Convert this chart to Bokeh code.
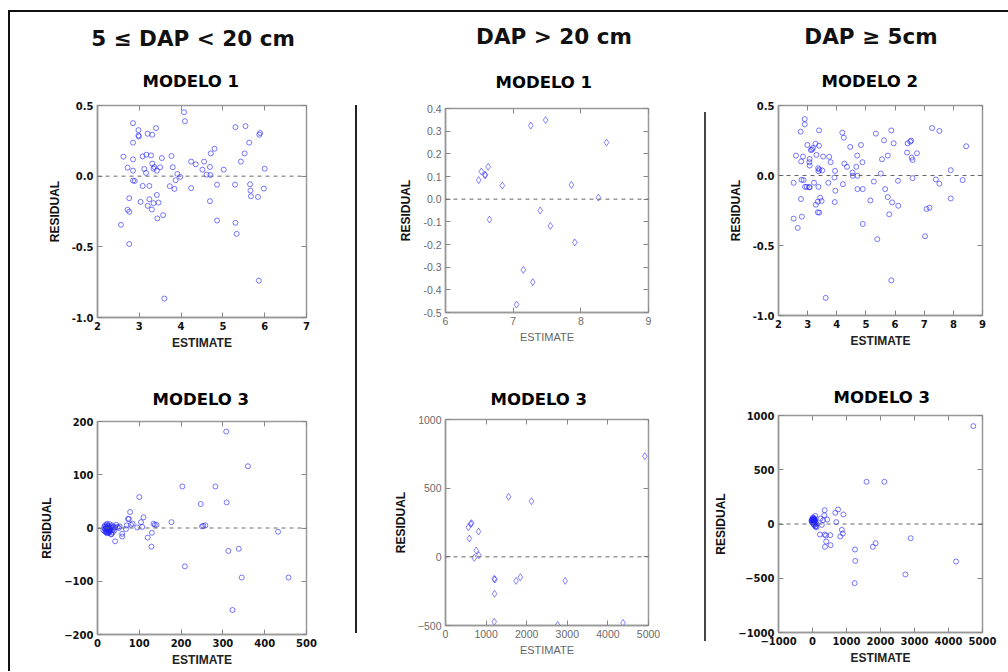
from bokeh.plotting import figure
from bokeh.models import (Range1d, FixedTicker, LinearAxis, Span, Div, NumeralTickFormatter, Spacer,
                          CustomLabelingPolicy)
from bokeh.layouts import row, column
from bokeh.embed import file_html
from bokeh.resources import INLINE

# ---------------- data ----------------
headers = ["5 \u2264 DAP &lt; 20 cm", "DAP &gt; 20 cm", "DAP \u2265 5cm"]

# 5 <= DAP < 20 cm, Modelo 1
s_m1_est = [2.62,2.85,2.98,2.98,2.99,2.85,2.72,2.85,2.85,2.85,2.89,2.76,2.72,2.76,2.56,2.76,3.08,3.17,3.28,3.20,
            3.31,3.40,3.12,3.16,3.08,3.03,3.20,3.24,3.24,3.30,3.34,3.36,3.34,3.31,3.42,3.50,3.54,3.46,3.42,3.43,
            3.57,3.60,3.77,3.80,3.73,3.84,3.87,3.91,3.98,4.07,4.09,4.24,4.35,4.24,4.55,4.51,4.61,4.69,4.70,4.71,
            4.80,4.69,4.86,4.86,5.02,5.30,5.29,5.30,5.33,5.54,5.52,5.43,5.63,5.65,5.66,5.67,5.84,5.87,5.89,6.00,
            5.98,5.86]
s_m1_res = [0.138,0.375,0.326,0.288,0.281,0.237,0.060,0.119,0.039,-0.031,-0.034,-0.156,-0.238,-0.252,-0.344,-0.480,0.140,0.152,0.147,0.300,
            0.293,0.340,0.051,0.023,-0.069,-0.182,-0.210,-0.163,-0.069,-0.236,-0.191,0.065,0.053,0.089,0.039,0.063,0.128,-0.187,-0.133,-0.299,
            -0.276,-0.866,0.143,0.063,-0.071,-0.090,-0.029,0.016,-0.005,0.453,0.389,0.103,0.084,-0.085,0.103,0.046,0.011,0.065,0.008,0.161,
            0.194,-0.177,-0.060,-0.314,0.046,0.347,-0.060,-0.330,-0.408,0.354,0.161,0.103,0.237,-0.057,-0.102,-0.142,-0.147,0.293,0.305,0.053,
            -0.088,-0.739]

# DAP > 20 cm, Modelo 1
l_m1_est = [6.49,6.53,6.58,6.59,6.63,6.65,6.84,7.05,7.15,7.26,7.29,7.48,7.40,7.55,7.86,7.91,8.26,8.38]
l_m1_res = [0.084,0.122,0.107,0.106,0.143,-0.090,0.060,-0.465,-0.312,0.325,-0.366,0.349,-0.050,-0.118,0.063,-0.191,0.007,0.250]

# DAP >= 5 cm, Modelo 2
a_m2_est = [2.52,2.60,2.52,2.66,2.76,2.78,2.84,2.79,2.86,2.77,2.80,2.90,2.90,2.91,2.99,2.97,3.05,3.07,3.06,3.07,
            3.11,3.15,3.18,3.07,3.22,3.27,3.30,3.39,3.39,3.36,3.37,3.40,3.50,3.37,3.28,3.35,3.35,3.40,3.43,3.48,
            3.53,3.62,3.71,3.74,3.79,3.94,3.92,3.95,3.93,4.19,4.24,4.21,4.26,4.35,4.46,4.54,4.55,4.70,4.67,4.71,
            4.71,4.83,4.88,4.89,4.89,5.15,5.27,5.34,5.39,5.51,5.55,5.62,5.66,5.75,5.75,5.80,5.87,5.90,5.95,5.87,
            6.10,6.11,6.41,6.43,6.52,6.55,6.57,6.60,6.60,6.75,7.03,7.08,7.18,7.27,7.40,7.52,7.52,7.91,7.91,8.32,
            8.44]
a_m2_res = [-0.052,0.142,-0.308,-0.374,0.313,0.100,0.135,-0.031,-0.033,-0.168,-0.294,0.403,0.365,-0.081,0.218,-0.081,-0.083,0.118,0.095,0.071,
            0.182,0.185,0.197,-0.085,-0.052,0.227,0.147,0.213,0.322,0.052,0.031,0.043,0.036,-0.081,-0.209,-0.187,-0.263,-0.265,-0.159,-0.182,
            0.135,-0.874,-0.052,0.133,0.095,0.033,-0.014,-0.109,-0.190,0.306,0.270,-0.062,0.085,0.062,0.204,0.021,-0.002,0.142,0.062,-0.002,
            -0.097,0.218,0.095,-0.097,-0.346,-0.178,-0.043,0.299,-0.455,0.014,0.116,0.251,-0.097,0.142,-0.154,-0.277,0.322,-0.192,0.230,-0.749,
            -0.038,-0.216,0.164,0.230,0.242,0.249,0.128,0.111,-0.019,0.159,-0.434,-0.239,-0.230,0.339,-0.028,-0.059,0.318,0.038,-0.164,-0.033,
            0.209]

# 5 <= DAP < 20 cm, Modelo 3
s_m3_est = [14,16,17,18,19,20,20,21,22,22,23,24,24,25,26,26,27,28,28,29,30,31,32,33,34,35,36,37,38,40,42,18,21,25,29,33,23,27,
            78,73,75,70,68,80,84,95,104,110,107,100,59,59,42,48,51,53,45,134,137,141,120,130,129,177,203,209,247,250,253,258,
            282,308,309,313,323,338,345,360,432,457]
s_m3_res = [-4,2,-6,5,-2,-8,3,0,-5,6,-10,-3,2,-7,4,-1,-9,1,-4,7,-2,-6,3,-11,0,5,-8,-3,2,-5,1,-1,-7,-9,-6,-12,8,-5,
            30,17,17,5,-2,6,8,1,11,20,2,58,-11,-16,-25,2,0,3,6,8,6,6,-18,-9,-35,11,78,-72,45,3,4,5,
            78,181,48,-43,-154,-39,-93,116,-7,-93]

# DAP > 20 cm, Modelo 3
l_m3_est = [564,644,620,588,813,757,709,821,1200,1216,1208,1200,1554,1739,1844,2118,2762,2947,4372,4911]
l_m3_res = [216,245,240,133,184,46,-7,12,-160,-165,-269,-473,437,-175,-148,405,-497,-175,-481,733]

# DAP >= 5 cm, Modelo 3
a_m3_est = [-30,-20,-10,0,5,10,15,20,25,30,35,40,45,50,55,60,70,80,90,100,110,120,10,30,50,-15,65,85,
            81,237,311,348,431,357,274,219,357,394,523,403,366,532,670,753,698,909,863,891,817,1249,1258,1240,
            1590,2114,1774,1857,2888,2732,4223,4729]
a_m3_res = [30,40,25,35,45,20,38,50,28,42,15,33,55,22,40,10,30,-5,20,-20,5,-30,60,0,-10,15,45,-25,
            75,51,35,81,41,127,-8,-97,-97,-106,-103,-161,-210,-195,103,134,17,88,-54,-88,-115,-235,-340,-545,
            389,389,-210,-177,-131,-465,-346,902]

# ---------------- styling ----------------
BOLD = dict(tick_font="DejaVu Sans", tick_style="bold", tick_size="10px", tick_color="#111111",
            xlab_style="bold", xlab_size="12px", xlab_color="#222222", ylab_size="12px")
GREY = dict(tick_font="Liberation Sans", tick_style="normal", tick_size="10.5px", tick_color="#6a6a6a",
            xlab_style="normal", xlab_size="11px", xlab_color="#666666", ylab_size="12px")

NO_LABELS = CustomLabelingPolicy(code="return []")


def panel(title, xs, ys, xr, yr, xt, yt, yfmt, st, marker, w, h, mbl, mbr, mbt, mbb, toff, gap_font):
    p = figure(width=w, height=h, x_range=Range1d(*xr), y_range=Range1d(*yr),
               output_backend="svg", toolbar_location=None,
               min_border_left=mbl, min_border_right=mbr, min_border_top=mbt, min_border_bottom=mbb,
               x_axis_label="ESTIMATE", y_axis_label="RESIDUAL")
    p.title.text = title
    p.title.align = "left"
    p.title.text_font = "DejaVu Sans"
    p.title.text_font_style = "bold"
    p.title.text_font_size = "16.5px"
    p.title.text_color = "#000000"
    p.title.offset = toff
    p.title.standoff = 0
    p.grid.visible = False
    p.outline_line_color = "#999999"
    p.outline_line_width = 1.5
    for ax in (p.xaxis[0], p.yaxis[0]):
        ax.axis_line_color = "#999999"
        ax.axis_line_width = 1.5
        ax.major_tick_in = 5
        ax.major_tick_out = 0
        ax.major_tick_line_color = "#888888"
        ax.minor_tick_line_color = None
        ax.major_label_text_font = st["tick_font"]
        ax.major_label_text_font_style = st["tick_style"]
        ax.major_label_text_font_size = st["tick_size"]
        ax.major_label_text_color = st["tick_color"]
        ax.major_label_standoff = 4
        ax.axis_label_text_font = "Liberation Sans"
    p.xaxis[0].ticker = FixedTicker(ticks=xt)
    p.yaxis[0].ticker = FixedTicker(ticks=yt)
    if yfmt:
        p.yaxis[0].formatter = NumeralTickFormatter(format=yfmt)
    p.xaxis[0].axis_label_text_font_style = st["xlab_style"]
    p.xaxis[0].axis_label_text_font_size = st["xlab_size"]
    p.xaxis[0].axis_label_text_color = st["xlab_color"]
    p.xaxis[0].axis_label_standoff = 3
    p.yaxis[0].axis_label_text_font_style = "bold"
    p.yaxis[0].axis_label_text_font_size = st["ylab_size"]
    p.yaxis[0].axis_label_text_color = "#111111"
    p.yaxis[0].axis_label_standoff = 7
    # inner ticks on the top and right edges, without labels
    for loc, tk, fs in (("above", xt, gap_font), ("right", yt, "1px")):
        ax = LinearAxis(ticker=FixedTicker(ticks=tk), major_label_policy=NO_LABELS)
        ax.axis_line_color = None
        ax.major_tick_in = 5
        ax.major_tick_out = 0
        ax.major_tick_line_color = "#888888"
        ax.minor_tick_line_color = None
        ax.major_label_standoff = 0
        ax.major_label_text_font_size = fs
        p.add_layout(ax, loc)
    p.add_layout(Span(location=0, dimension="width", line_color="#666666",
                      line_dash="4 4", line_width=1))
    if marker == "circle":
        p.scatter(xs, ys, marker="circle", size=5, fill_color=None,
                  line_color="#2020ff", line_alpha=0.6, line_width=1)
    else:
        p.scatter(xs, ys, marker="diamond", size=7, fill_color=None,
                  line_color="#2020ff", line_alpha=0.55, line_width=1)
    return p


p11 = panel("MODELO 1", s_m1_est, s_m1_res, (2, 7), (-1.0, 0.5), [2, 3, 4, 5, 6, 7], [-1.0, -0.5, 0.0, 0.5],
            "0.0", BOLD, "circle", 345, 287, 84, 49, 40, 34, 45, "16px")
p21 = panel("MODELO 3", s_m3_est, s_m3_res, (0, 500), (-200, 200), [0, 100, 200, 300, 400, 500],
            [-200, -100, 0, 100, 200], None, BOLD, "circle", 345, 319, 87, 45, 69, 37, 55, "15.5px")

p12 = panel("MODELO 1", l_m1_est, l_m1_res, (6, 9), (-0.5, 0.4), [6, 7, 8, 9],
            [-0.5, -0.4, -0.3, -0.2, -0.1, 0.0, 0.1, 0.2, 0.3, 0.4], "0.0", GREY, "diamond",
            347, 285, 88, 56, 43, 38, 50, "20px")
p22 = panel("MODELO 3", l_m3_est, l_m3_res, (0, 5000), (-500, 1000), [0, 1000, 2000, 3000, 4000, 5000],
            [-500, 0, 500, 1000], None, GREY, "diamond", 347, 321, 84, 56, 69, 46, 45, "11.5px")

p13 = panel("MODELO 2", a_m2_est, a_m2_res, (2, 9), (-1.0, 0.5), [2, 3, 4, 5, 6, 7, 8, 9], [-1.0, -0.5, 0.0, 0.5],
            "0.0", BOLD, "circle", 302, 285, 67, 26, 40, 34, 43, "16px")
p23 = panel("MODELO 3", a_m3_est, a_m3_res, (-1000, 5000), (-1000, 1000),
            [-1000, 0, 1000, 2000, 3000, 4000, 5000], [-1000, -500, 0, 500, 1000], None, BOLD, "circle",
            302, 321, 72, 14, 65, 39, 55, "8.5px")

# headers (page-relative centres minus the 10px left offset)
centers = [183, 544, 861]
lheights = [54, 50, 50]
inner = "".join(
    f'<div style="position:absolute;left:{c-160}px;top:0;width:320px;line-height:{lh}px;text-align:center;'
    f'white-space:nowrap">{t}</div>' for c, lh, t in zip(centers, lheights, headers))
header = Div(text=f'<div style="position:relative;width:998px;height:53px;font-family:\'DejaVu Sans\';'
                  f'font-weight:bold;font-size:21.5px;color:#111">{inner}</div>',
             width=998, height=53, margin=0)

div1 = column(Spacer(width=2, height=40),
              Div(text="", width=2, height=528, margin=0, styles={"background-color": "#222222"}))
div2 = column(Spacer(width=2, height=47),
              Div(text="", width=2, height=529, margin=0, styles={"background-color": "#444444"}))

body = row(column(p11, p21), div1, column(p12, p22), div2, column(p13, p23))
top_border = Div(text="", width=998, height=2, margin=0, styles={"background-color": "#111111"})
left_border = Div(text="", width=2, height=661, margin=0, styles={"background-color": "#111111"})
layout = column(Spacer(width=1008, height=10),
                row(Spacer(width=8, height=661), left_border, column(top_border, header, body)))

open("out.html", "w").write(file_html(layout, INLINE))
